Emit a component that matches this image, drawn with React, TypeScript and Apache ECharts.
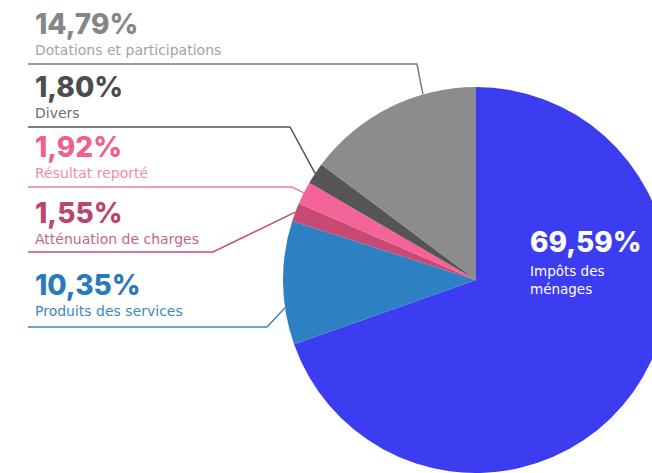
import React, { useEffect, useRef } from "react";
import * as echarts from "echarts";

// ---- data ----
const categories = [
  "Impôts des ménages",
  "Produits des services",
  "Atténuation de charges",
  "Résultat reporté",
  "Divers",
  "Dotations et participations",
];
const shares = [69.59, 10.35, 1.55, 1.92, 1.8, 14.79];
const innerNameLines = ["Impôts des", "ménages"];

// ---- styles ----
const sliceColors = ["#3c3cf0", "#2d80c2", "#c64a73", "#f4649a", "#555555", "#8c8c8c"];
const pctColors = ["#ffffff", "#2b79ba", "#b9466d", "#f0608f", "#4d4d4d", "#868686"];
const nameColors = ["#ffffff", "#3d88c4", "#c5638a", "#f489b0", "#6e6e6e", "#a3a3a3"];
const lineColors = ["#ffffff", "#3a86c2", "#c05078", "#f27aa5", "#555555", "#7b7b7b"];

// ---- layout ----
const CX = 476;
const CY = 280;
const RADIUS = 193;
const labelTop = [222, 268, 196, 130, 70, 7];
const lineY = [0, 327, 252, 187, 127, 64];
const elbowX = [0, 267, 213, 292, 290, 417];
const anchorFrac = [0.5, 0.3, 0.5, 0.5, 0.5, 0.7];
const LEFT_X = 35;
const LINE_START = 28;
const INNER_X = 530;

const PCT_FONT = "Inter";
const NAME_FONT = "DejaVu Sans";

function fmt(v: number) {
  return v.toFixed(2).replace(".", ",") + "%";
}

export default function App() {
  const ref = useRef<HTMLDivElement>(null);
  useEffect(() => {
    if (!ref.current) return;
    const chart = echarts.init(ref.current, undefined, { renderer: "svg" });
    const total = shares.reduce((a, b) => a + b, 0);
    const starts: number[] = [];
    let acc = 0;
    shares.forEach((s) => {
      starts.push(acc);
      acc += s;
    });

    const rich: Record<string, any> = {
      pin: {
        fontFamily: PCT_FONT,
        fontWeight: 800,
        fontSize: 28,
        lineHeight: 40,
        color: pctColors[0],
      },
      nin: {
        fontFamily: NAME_FONT,
        fontSize: 13.5,
        lineHeight: 18,
        color: nameColors[0],
      },
    };
    for (let i = 1; i < shares.length; i++) {
      rich["p" + i] = {
        fontFamily: PCT_FONT,
        fontWeight: 800,
        fontSize: 28,
        lineHeight: 34,
        color: pctColors[i],
      };
      rich["n" + i] = {
        fontFamily: NAME_FONT,
        fontSize: 14,
        lineHeight: 18,
        color: nameColors[i],
      };
    }

    const data = categories.map((name, i) => ({
      name,
      value: shares[i],
      itemStyle: { color: sliceColors[i] },
      labelLine:
        i === 0
          ? { show: false }
          : { show: true, lineStyle: { color: lineColors[i], width: 1.5 } },
    }));

    chart.setOption({
      animation: false,
      series: [
        {
          type: "pie",
          center: [CX, CY],
          radius: RADIUS,
          startAngle: 90,
          clockwise: true,
          silent: true,
          avoidLabelOverlap: false,
          emphasis: { disabled: true },
          data,
          label: {
            show: true,
            position: "outside",
            rich,
            formatter: (p: any) => {
              const i = p.dataIndex;
              if (i === 0) {
                return (
                  `{pin|${fmt(p.value)}}\n` +
                  innerNameLines.map((l) => `{nin|${l}}`).join("\n")
                );
              }
              return `{p${i}|${fmt(p.value)}}\n{n${i}|${p.name}}`;
            },
          },
          labelLine: { show: true, smooth: false },
          labelLayout: (params: any) => {
            const i = params.dataIndex;
            if (i === 0) {
              return { x: INNER_X, y: labelTop[0], align: "left", verticalAlign: "top" };
            }
            const angDeg = ((starts[i] + shares[i] * anchorFrac[i]) / total) * 360;
            const a = (angDeg * Math.PI) / 180;
            const ex = CX + RADIUS * Math.sin(a);
            const ey = CY - RADIUS * Math.cos(a);
            return {
              x: LEFT_X,
              y: labelTop[i],
              align: "left",
              verticalAlign: "top",
              labelLinePoints: [
                [ex, ey],
                [elbowX[i], lineY[i]],
                [LINE_START, lineY[i]],
              ],
            };
          },
        },
      ],
    });
    return () => chart.dispose();
  }, []);
  return (
    <div
      ref={ref}
      style={{ position: "absolute", left: 0, top: 0, width: 652, height: 473, background: "#ffffff" }}
    />
  );
}
